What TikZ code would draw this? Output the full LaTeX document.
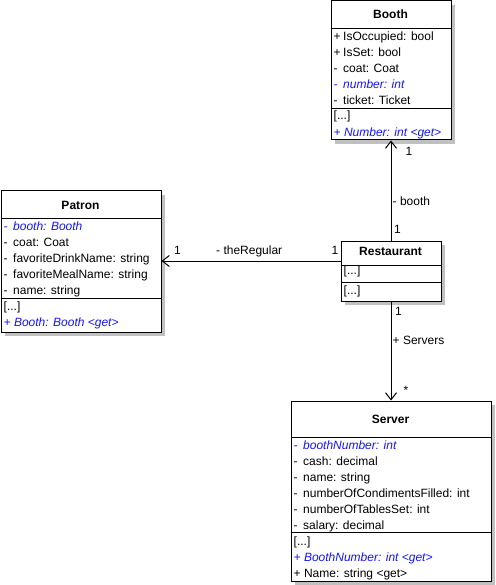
\documentclass[tikz,border=0pt]{standalone}
\usepackage{fontspec}
\setmainfont{Liberation Sans}
\usetikzlibrary{arrows.meta,shadows}
\definecolor{umlblue}{RGB}{20,20,255}
\definecolor{shadowgray}{RGB}{192,192,192}
\newcommand\vis[1]{\makebox[9.5pt][l]{#1}}
\begin{document}
\begin{tikzpicture}[x=1pt,y=-1pt,
  classbox/.style={draw=black, line width=1pt, fill=white, anchor=north west, inner sep=0pt,
    drop shadow={shadow xshift=4pt, shadow yshift=-4pt, fill=shadowgray, opacity=1}},
  sepline/.style={line width=1pt},
  txt/.style={anchor=base west, inner sep=0pt, font=\fontsize{12}{14}\selectfont},
  blu/.style={text=umlblue, font=\fontsize{12}{14}\selectfont\itshape},
  ttl/.style={anchor=base, inner sep=0pt, font=\fontsize{12}{14}\selectfont\bfseries},
  assoc/.style={line width=1pt, -{Straight Barb[length=7pt,width=11pt]}}
]
\useasboundingbox (0,0) rectangle (495,585);

% ---------- Booth ----------
\node[classbox, minimum width=120pt, minimum height=139pt] (booth) at (330.5,0.5) {};
\draw[sepline] ([yshift=-28pt]booth.north west) -- ([yshift=-28pt]booth.north east);
\draw[sepline] ([yshift=-108pt]booth.north west) -- ([yshift=-108pt]booth.north east);
\node[ttl] (booth-t) at (390.5,19) {Booth};
\node[txt] (booth-a1) at (333.5,40.5) {\vis{+}IsOccupied: bool};
\node[txt] (booth-a2) at (333.5,56.5) {\vis{+}IsSet: bool};
\node[txt] (booth-a3) at (333.5,72.5) {\vis{-}coat: Coat};
\node[txt,blu] (booth-a4) at (333.5,88.5) {\vis{-}number: int};
\node[txt] (booth-a5) at (333.5,104.5) {\vis{-}ticket: Ticket};
\node[txt] (booth-o1) at (333.5,120) {[...]};
\node[txt,blu] (booth-o2) at (333.5,136.5) {+ Number: int <get>};

% ---------- Patron ----------
\node[classbox, minimum width=160pt, minimum height=141pt] (patron) at (0.5,190.5) {};
\draw[sepline] ([yshift=-28pt]patron.north west) -- ([yshift=-28pt]patron.north east);
\draw[sepline] ([yshift=-108pt]patron.north west) -- ([yshift=-108pt]patron.north east);
\node[ttl] (patron-t) at (80.5,209) {Patron};
\node[txt,blu] (patron-a1) at (3.5,230.5) {\vis{-}booth: Booth};
\node[txt] (patron-a2) at (3.5,246.5) {\vis{-}coat: Coat};
\node[txt] (patron-a3) at (3.5,262.5) {\vis{-}favoriteDrinkName: string};
\node[txt] (patron-a4) at (3.5,278.5) {\vis{-}favoriteMealName: string};
\node[txt] (patron-a5) at (3.5,294.5) {\vis{-}name: string};
\node[txt] (patron-o1) at (3.5,310) {[...]};
\node[txt,blu] (patron-o2) at (3.5,326.5) {+ Booth: Booth <get>};

% ---------- Restaurant ----------
\node[classbox, minimum width=100pt, minimum height=60pt] (rest) at (340.5,240.5) {};
\draw[sepline] ([yshift=-25pt]rest.north west) -- ([yshift=-25pt]rest.north east);
\draw[sepline] ([yshift=-42pt]rest.north west) -- ([yshift=-42pt]rest.north east);
\node[ttl] (rest-t) at (390.5,255) {Restaurant};
\node[txt] (rest-a1) at (343.5,274.5) {[...]};
\node[txt] (rest-o1) at (343.5,294) {[...]};

% ---------- Server ----------
\node[classbox, minimum width=200pt, minimum height=180pt] (server) at (290.5,400.5) {};
\draw[sepline] ([yshift=-36.5pt]server.north west) -- ([yshift=-36.5pt]server.north east);
\draw[sepline] ([yshift=-131.5pt]server.north west) -- ([yshift=-131.5pt]server.north east);
\node[ttl] (server-t) at (390.5,423) {Server};
\node[txt,blu] (server-a1) at (293.5,449) {\vis{-}boothNumber: int};
\node[txt] (server-a2) at (293.5,465) {\vis{-}cash: decimal};
\node[txt] (server-a3) at (293.5,481) {\vis{-}name: string};
\node[txt] (server-a4) at (293.5,497) {\vis{-}numberOfCondimentsFilled: int};
\node[txt] (server-a5) at (293.5,513) {\vis{-}numberOfTablesSet: int};
\node[txt] (server-a6) at (293.5,529) {\vis{-}salary: decimal};
\node[txt] (server-o1) at (293.5,545) {[...]};
\node[txt,blu] (server-o2) at (293.5,561) {+ BoothNumber: int <get>};
\node[txt] (server-o3) at (293.5,577) {+ Name: string <get>};

% ---------- Associations ----------
\draw[assoc] (rest.north) -- (booth.south);
\draw[assoc] (rest.south) -- (server.north);
\draw[assoc] ([yshift=10pt]rest.west) coordinate (rw) -- (rw -| patron.east);

% ---------- Labels ----------
\node[txt] (l-b1) at (405.5,155.5) {1};
\node[txt] (l-b2) at (392.5,205.5) {- booth};
\node[txt] (l-b3) at (394,233) {1};
\node[txt] (l-p1) at (174,254) {1};
\node[txt] (l-p2) at (216,254) {- theRegular};
\node[txt] (l-p3) at (331.5,254) {1};
\node[txt] (l-s1) at (395,315.5) {1};
\node[txt] (l-s2) at (392.5,344) {+ Servers};
\node[txt] (l-s3) at (403.5,394) {*};
\end{tikzpicture}
\end{document}
